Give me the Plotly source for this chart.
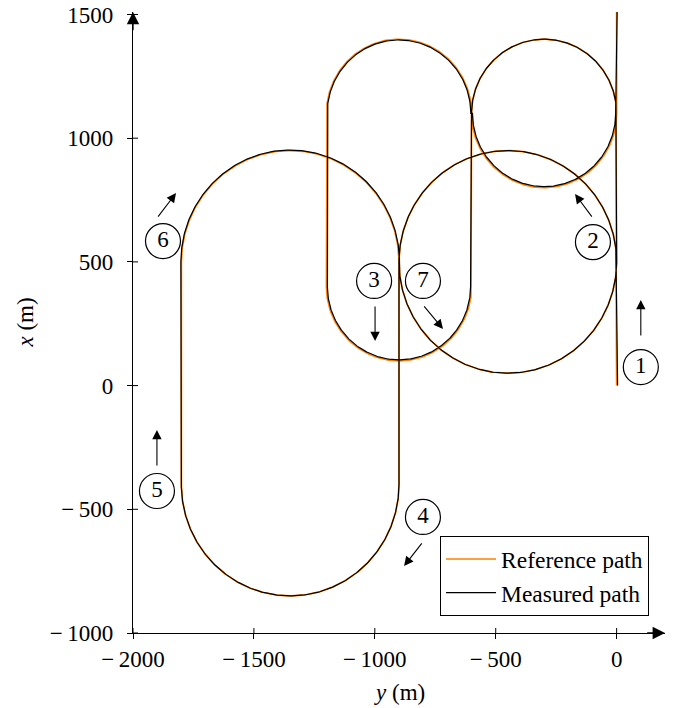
import numpy as np
import plotly.graph_objects as go

# ---------------- data (metres; y = horizontal axis, x = vertical axis) ----------------
# Reference path: start point, sequence of circular turns (straight legs join consecutive turns), end point
path_start = (0, 0)
path_end = (0, 1510)
turn_centre_y = [-450, -1350, -1350, -450, -300, -900, -900, -300]
turn_centre_x = [500, -400, 500, 500, 1100, 400, 1100, 1100]
turn_radius = [450, 450, 450, 450, 300, 300, 300, 300]
turn_from_deg = [0, 0, 180, 180, 0, 0, 180, 180]
turn_to_deg = [180, -180, 0, 360, 180, -180, 0, 360]

# Measured path: small deviations from the reference
meas_start = (4, 0)
meas_end = (2, 1510)
meas_radius_dev = [0, 0, 2, 0, 0, -4, -3, -4]

series_names = ["Reference path", "Measured path"]

xtick_vals = [-2000, -1500, -1000, -500, 0]
xtick_text = ["\u2212\u20092000", "\u2212\u20091500", "\u2212\u20091000", "\u2212\u2009500", "0"]
ytick_vals = [-1000, -500, 0, 500, 1000, 1500]
ytick_text = ["\u2212\u20091000", "\u2212\u2009500", "0", "500", "1000", "1500"]

# circled step labels and their direction arrows
step_labels = ["1", "2", "3", "4", "5", "6", "7"]
step_label_y = [100, -98, -1003, -801, -1901, -1876, -801]
step_label_x = [75, 580, 423, -531, -426, 584, 423]
arrow_tail_y = [100, -98, -999, -801, -1901, -1901, -801]
arrow_tail_x = [196, 677, 326, -632, -329, 677, 326]
arrow_head_y = [100, -172, -999, -879, -1901, -1822, -718]
arrow_head_x = [346, 774, 180, -729, -179, 778, 229]

# ---------------- build ----------------
FONT = "Liberation Serif"
FS = 23


def build_path(start, end, radii):
    ys = [start[0]]
    xs = [start[1]]
    for cy, cx, r, a0, a1 in zip(turn_centre_y, turn_centre_x, radii, turn_from_deg, turn_to_deg):
        th = np.radians(np.linspace(a0, a1, 241))
        ys.extend(cy + r * np.cos(th))
        xs.extend(cx + r * np.sin(th))
    ys.append(end[0])
    xs.append(end[1])
    return ys, xs


ref_y, ref_x = build_path(path_start, path_end, turn_radius)
meas_y, meas_x = build_path(meas_start, meas_end,
                            [r + d for r, d in zip(turn_radius, meas_radius_dev)])

fig = go.Figure()
fig.add_trace(go.Scatter(x=ref_y, y=ref_x, mode="lines", name=series_names[0],
                         line=dict(color="#ff8000", width=1.7)))
fig.add_trace(go.Scatter(x=meas_y, y=meas_x, mode="lines", name=series_names[1],
                         line=dict(color="black", width=1.2)))

fig.add_trace(go.Scatter(x=step_label_y, y=step_label_x, mode="markers+text", text=step_labels,
                         textposition="middle center", showlegend=False, cliponaxis=False,
                         textfont=dict(family=FONT, size=FS, color="black"),
                         marker=dict(symbol="circle-open", size=35, color="black",
                                     line=dict(width=1.2, color="black")),
                         hoverinfo="skip"))

annotations = []
for ty, tx, hy, hx in zip(arrow_tail_y, arrow_tail_x, arrow_head_y, arrow_head_x):
    annotations.append(dict(x=hy, y=hx, ax=ty, ay=tx, xref="x", yref="y", axref="x", ayref="y",
                            text="", showarrow=True, arrowhead=2, arrowsize=1.7,
                            arrowwidth=1.1, arrowcolor="black", standoff=0, startstandoff=0))

# axis arrowheads
annotations.append(dict(x=200, y=-1000, ax=120, ay=-1000, xref="x", yref="y", axref="x", ayref="y",
                        text="", showarrow=True, arrowhead=2, arrowsize=1.9, arrowwidth=1.3,
                        arrowcolor="black", standoff=0))
annotations.append(dict(x=-2000, y=1510, ax=-2000, ay=1430, xref="x", yref="y", axref="x", ayref="y",
                        text="", showarrow=True, arrowhead=2, arrowsize=1.9, arrowwidth=1.3,
                        arrowcolor="black", standoff=0))

# axis titles
annotations.append(dict(x=0.5, y=-0.0966, xref="paper", yref="paper", text="<i>y</i> (m)",
                        showarrow=False, xanchor="center", yanchor="middle",
                        font=dict(family=FONT, size=FS, color="black")))
annotations.append(dict(x=-0.203, y=0.5, xref="paper", yref="paper", text="<i>x</i> (m)",
                        showarrow=False, xanchor="center", yanchor="middle", textangle=-90,
                        font=dict(family=FONT, size=FS, color="black")))

shapes = []
for v in xtick_vals:
    shapes.append(dict(type="line", xref="x", yref="y", ysizemode="pixel", yanchor=-1000,
                       x0=v, x1=v, y0=-5, y1=5, line=dict(color="black", width=1)))
for v in ytick_vals:
    shapes.append(dict(type="line", xref="x", yref="y", xsizemode="pixel", xanchor=-2000,
                       y0=v, y1=v, x0=-5, x1=5, line=dict(color="black", width=1)))

axis_common = dict(showgrid=False, zeroline=False, showline=True, linecolor="black", linewidth=1.3,
                   ticks="outside", ticklen=5, tickwidth=1, tickcolor="black", automargin=False,
                   tickfont=dict(family=FONT, size=FS, color="black"), mirror=False)

fig.update_layout(
    width=680, height=708,
    margin=dict(l=133, r=15, t=12, b=75, autoexpand=False),
    paper_bgcolor="white", plot_bgcolor="white",
    xaxis=dict(range=[-2000, 200], tickmode="array", tickvals=xtick_vals, ticktext=xtick_text,
               ticklabelstandoff=0, **axis_common),
    yaxis=dict(range=[-1000, 1510], tickmode="array", tickvals=ytick_vals, ticktext=ytick_text,
               ticklabelstandoff=9, **axis_common),
    legend=dict(x=0.970, y=0.027, xanchor="right", yanchor="bottom",
                bordercolor="black", borderwidth=1, bgcolor="white", itemwidth=50,
                font=dict(family=FONT, size=23.5, color="black"), tracegroupgap=0),
    annotations=annotations,
    shapes=shapes,
    showlegend=True,
)

fig.write_html("out.html")
